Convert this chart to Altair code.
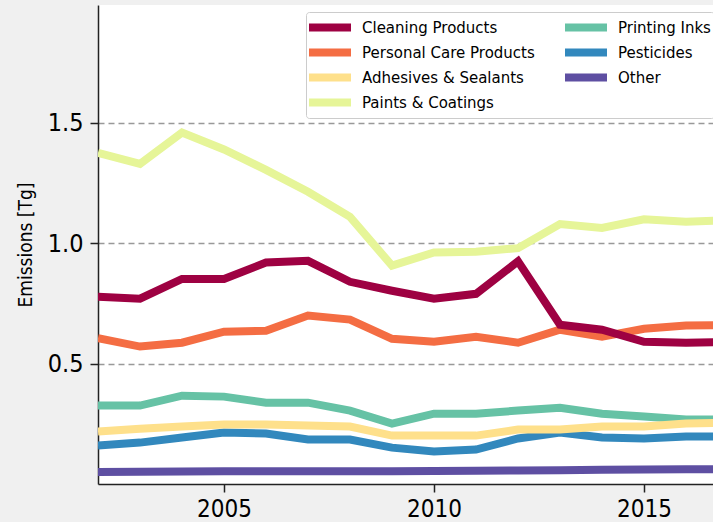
import altair as alt
import pandas as pd

years = list(range(2002, 2018))

cleaning = [0.778, 0.770, 0.852, 0.852, 0.920, 0.927, 0.840, 0.803, 0.770, 0.790, 0.925, 0.662, 0.641, 0.591, 0.587, 0.590]
personal = [0.606, 0.571, 0.587, 0.633, 0.637, 0.700, 0.683, 0.603, 0.591, 0.612, 0.587, 0.641, 0.612, 0.645, 0.658, 0.660]
adhesives = [0.218, 0.230, 0.239, 0.247, 0.247, 0.243, 0.239, 0.201, 0.201, 0.201, 0.226, 0.226, 0.239, 0.239, 0.251, 0.255]
paints = [1.376, 1.330, 1.460, 1.390, 1.305, 1.214, 1.110, 0.907, 0.962, 0.965, 0.980, 1.080, 1.064, 1.100, 1.090, 1.095]
inks = [0.326, 0.326, 0.367, 0.363, 0.338, 0.338, 0.305, 0.251, 0.292, 0.292, 0.305, 0.317, 0.292, 0.280, 0.268, 0.268]
pesticides = [0.160, 0.172, 0.193, 0.214, 0.210, 0.185, 0.185, 0.151, 0.135, 0.143, 0.189, 0.214, 0.193, 0.189, 0.197, 0.197]
other = [0.050, 0.051, 0.052, 0.053, 0.053, 0.053, 0.053, 0.053, 0.054, 0.055, 0.056, 0.057, 0.059, 0.060, 0.061, 0.062]

series_names = ["Cleaning Products", "Personal Care Products", "Adhesives & Sealants",
                "Paints & Coatings", "Printing Inks", "Pesticides", "Other"]
series_values = [cleaning, personal, adhesives, paints, inks, pesticides, other]
series_colors = ["#9e0142", "#f46d43", "#fee08b", "#e6f598", "#66c2a5", "#3288bd", "#5e4fa2"]

y_ticks = [0.5, 1.0, 1.5]
x_ticks = [2005, 2010, 2015]

rows = []
# later series drawn first so that earlier series sit on top
for name, vals in reversed(list(zip(series_names, series_values))):
    for yr, v in zip(years, vals):
        rows.append({"year": yr, "value": v, "series": name})
df = pd.DataFrame(rows)

FONT = "DejaVu Sans Condensed"

chart = alt.Chart(df).mark_line(strokeWidth=8, clip=True, strokeJoin="miter").encode(
    x=alt.X("year:Q",
            scale=alt.Scale(domain=[2002, 2016.643], nice=False, zero=False),
            axis=alt.Axis(values=x_ticks, format="d", title=None, grid=False,
                          tickSize=8, labelPadding=5, labelFontSize=24,
                          labelFont=FONT, labelColor="black",
                          domainColor="#222", tickColor="#222",
                          domainWidth=1.5, tickWidth=1.5)),
    y=alt.Y("value:Q",
            scale=alt.Scale(domain=[0, 1.99], nice=False, zero=False),
            axis=alt.Axis(values=y_ticks, format=".1f", title="Emissions [Tg]",
                          grid=True, gridDash=[6, 4], gridColor="#999999", gridWidth=1.4,
                          tickSize=8, labelPadding=7, labelFontSize=25,
                          labelFont=FONT, labelColor="black",
                          titleFont=FONT, titleFontSize=19, titleFontWeight="normal",
                          titleColor="black", titlePadding=12,
                          domainColor="#222", tickColor="#222",
                          domainWidth=1.5, tickWidth=1.5)),
    color=alt.Color("series:N",
                    scale=alt.Scale(domain=series_names, range=series_colors),
                    legend=alt.Legend(orient="none", legendX=208, legendY=7,
                                      columns=2, title=None,
                                      symbolType="stroke", symbolSize=1849,
                                      symbolStrokeWidth=8, symbolOffset=-5,
                                      labelOffset=7, clipHeight=25,
                                      rowPadding=0, columnPadding=30,
                                      labelFont="DejaVu Sans", labelFontSize=15,
                                      labelColor="black", labelLimit=400,
                                      fillColor="white", strokeColor="#cccccc",
                                      padding=3, cornerRadius=3)),
).properties(
    width=615, height=479,
    padding={"left": 98, "top": 5, "right": 0, "bottom": 38},
    autosize=alt.AutoSizeParams(type="none"),
).configure(
    background="#f0f0f0",
).configure_view(
    fill="white", stroke=None,
)

chart.save("out.html", embed_options={"renderer": "svg", "actions": False})
